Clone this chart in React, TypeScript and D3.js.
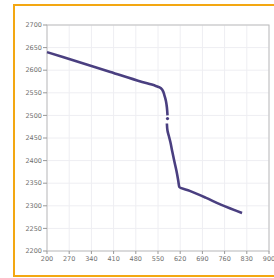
import React from "react";
import * as d3 from "d3";

const width = 274;
const height = 278;
const margin = { top: 25, right: 5, bottom: 27, left: 47 };

// x ticks and y ticks
const xTicks = [200, 270, 340, 410, 480, 550, 620, 690, 760, 830, 900];
const yTicks = [2200, 2250, 2300, 2350, 2400, 2450, 2500, 2550, 2600, 2650, 2700];

// upper part of the curve (ends with a single marker)
const upperX = [200, 300, 400, 500, 540, 555, 564, 570, 575, 578, 580];
const upperY = [2640, 2618, 2596, 2574, 2566, 2562, 2556, 2545, 2532, 2518, 2500];
const markX = [580];
const markY = [2493];
// lower part after the small gap
const lowerX = [578, 580, 584, 589, 595, 601, 608, 614, 617, 650, 700, 750, 815];
const lowerY = [2482, 2466, 2455, 2441, 2420, 2400, 2378, 2355, 2342, 2333, 2318, 2302, 2284];

const App = () => {
  const x = d3.scaleLinear().domain([200, 900]).range([margin.left, width - margin.right]);
  const y = d3.scaleLinear().domain([2200, 2700]).range([height - margin.bottom, margin.top]);

  const line = d3
    .line<[number, number]>()
    .x(d => x(d[0]))
    .y(d => y(d[1]))
    .curve(d3.curveMonotoneY);

  const upper = upperX.map((v, i) => [v, upperY[i]] as [number, number]);
  const lower = lowerX.map((v, i) => [v, lowerY[i]] as [number, number]);

  const [x0, x1] = x.range();
  const [y0, y1] = y.range();

  return (
    <svg
      width={width}
      height={height}
      style={{ position: "absolute", left: 0, top: 0, background: "#fff" }}
      fontFamily="DejaVu Sans, sans-serif"
    >
      <rect x={14} y={5} width={width} height={271} fill="#fff" stroke="#f3a712" strokeWidth={2} />

      {/* grid */}
      {xTicks.map(t => (
        <line key={"gx" + t} x1={x(t)} x2={x(t)} y1={y1} y2={y0} stroke="#eeeef2" />
      ))}
      {yTicks.map(t => (
        <line key={"gy" + t} x1={x0} x2={x1} y1={y(t)} y2={y(t)} stroke="#eeeef2" />
      ))}

      <rect x={x0} y={y1} width={x1 - x0} height={y0 - y1} fill="none" stroke="#bdbdbd" />

      {/* y axis */}
      {yTicks.map(t => (
        <g key={"ty" + t}>
          <line x1={x0 - 4} x2={x0} y1={y(t)} y2={y(t)} stroke="#999" />
          <text x={x0 - 5} y={y(t)} dy="0.35em" textAnchor="end" fontSize={6.5} fill="#707070">
            {t}
          </text>
        </g>
      ))}
      {/* x axis */}
      {xTicks.map(t => (
        <g key={"tx" + t}>
          <line x1={x(t)} x2={x(t)} y1={y0} y2={y0 + 3} stroke="#999" />
          <text x={x(t)} y={y0 + 10} textAnchor="middle" fontSize={6.5} fill="#707070">
            {t}
          </text>
        </g>
      ))}

      <path d={line(upper) ?? ""} fill="none" stroke="#4a3f80" strokeWidth={2.6} strokeLinejoin="round" />
      <path d={line(lower) ?? ""} fill="none" stroke="#4a3f80" strokeWidth={2.6} strokeLinejoin="round" />
      {markX.map((v, i) => (
        <circle key={"m" + i} cx={x(v)} cy={y(markY[i])} r={1.6} fill="#4a3f80" />
      ))}
    </svg>
  );
};

export default App;
